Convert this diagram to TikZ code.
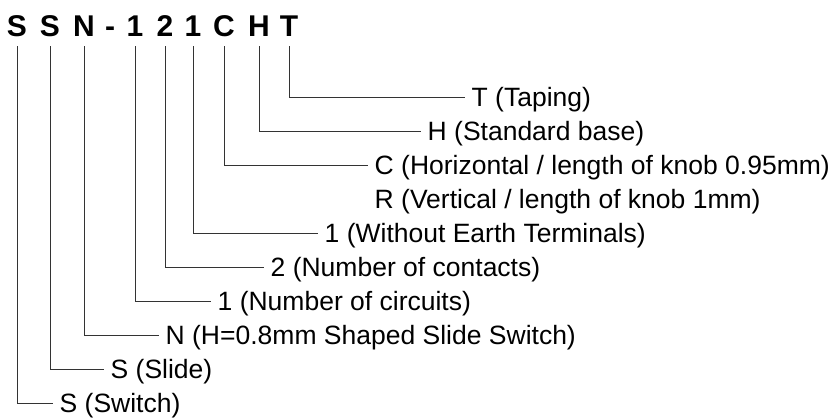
\documentclass[tikz,border=0pt]{standalone}
\usepackage{fontspec}
\setmainfont{Liberation Sans}
\usepackage{tikz}

\begin{document}
\begin{tikzpicture}[x=1pt,y=-1pt,
    code/.style={font=\fontsize{30}{30}\selectfont\bfseries, anchor=base,
        inner xsep=0pt, inner ysep=10pt, text depth=0pt},
    item/.style={font=\fontsize{26.5}{26.5}\selectfont, anchor=west,
        inner xsep=6.5pt, inner ysep=0pt, text height=19pt, text depth=0pt},
    lead/.style={line width=0.8pt, black!80}]

\useasboundingbox (0,0) rectangle (838,418);

% part number
\foreach \n/\x/\c in {s1/17/S, s2/50/S, n/84/N, d/110/-, c1/135/1,
                      c2/165/2, c3/193/1, k/224/C, h/259/H, t/289/T}
    \node[code] (\n) at (\x,36) {\c};

% meanings
\node[item] (lt)  at (465,97)  {T (Taping)};
\node[item] (lh)  at (421,131) {H (Standard base)};
\node[item] (lk)  at (368,165) {C (Horizontal / length of knob 0.95mm)};
\node[item] (lr)  at (368,199) {R (Vertical / length of knob 1mm)};
\node[item] (lc3) at (318,233) {1 (Without Earth Terminals)};
\node[item] (lc2) at (264,267) {2 (Number of contacts)};
\node[item] (lc1) at (211,301) {1 (Number of circuits)};
\node[item] (ln)  at (159,335) {N (H=0.8mm Shaped Slide Switch)};
\node[item] (ls2) at (104,369) {S (Slide)};
\node[item] (ls1) at (53,403)  {S (Switch)};

\foreach \i in {t,h,k,c3,c2,c1,n,s2,s1}
    \draw[lead] (\i.south) |- (l\i.west);

\end{tikzpicture}
\end{document}
